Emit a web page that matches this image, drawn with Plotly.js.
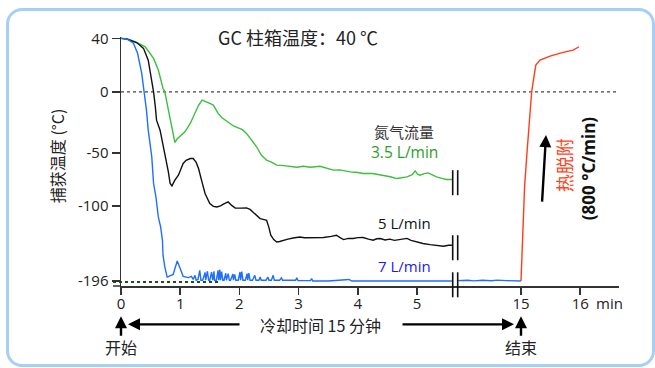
<!DOCTYPE html>
<html>
<head>
<meta charset="utf-8">
<script src="https://cdn.plot.ly/plotly-3.0.1.min.js"></script>
<style>
  html, body { margin: 0; padding: 0; background: #fff; }
  #wrap { position: relative; width: 655px; height: 368px; overflow: hidden; }
  #chart { position: absolute; left: 0; top: 0; width: 655px; height: 368px; }
  #frame { position: absolute; left: 6px; top: 8px; width: 649px; height: 359px; box-sizing: border-box;
           border: 3px solid #a6cff6; border-radius: 16px; pointer-events: none; }
</style>
</head>
<body>
<div id="wrap">
  <div id="chart"></div>
  <div id="frame"></div>
</div>
<script>
// ---------------- data (time in min, temperature in °C) ----------------
const greenT = [0, 0.1, 0.24, 0.41, 0.55, 0.63, 0.71, 0.74, 0.79, 0.83, 0.87, 0.91, 0.95, 1.0, 1.08, 1.17, 1.25, 1.31, 1.37, 1.41, 1.45, 1.5, 1.56, 1.64, 1.7, 1.76, 1.83, 1.9, 1.98, 2.05, 2.12, 2.2, 2.29, 2.37, 2.46, 2.55, 2.63, 2.75, 2.85, 2.97, 3.08, 3.2, 3.36, 3.45, 3.59, 3.7, 3.87, 4.0, 4.09, 4.25, 4.43, 4.55, 4.66, 4.75, 4.83, 4.92, 4.97, 5.01, 5.05, 5.12, 5.19, 5.25, 5.33, 5.42, 5.5, 5.59];
const greenV = [40, 39.5, 37.5, 33.7, 25, 16.3, 2.5, 0, -12.3, -23.2, -34, -41.5, -38.5, -36.6, -32.8, -25.9, -17.7, -11, -6.8, -7.5, -8.2, -9.5, -10.9, -17.7, -21, -23.2, -25.5, -28, -29.5, -31, -34.1, -39, -45, -52, -56.9, -59, -61.6, -62, -62.8, -63.5, -62.6, -63.5, -62.6, -64, -66.3, -66, -67.9, -68.5, -69.4, -69.5, -71, -72.5, -74.2, -73.5, -72.6, -70.5, -67, -70, -71, -69.5, -68.9, -70.5, -72.6, -74, -75.1, -75.1];

const blackT = [0, 0.1, 0.27, 0.38, 0.46, 0.51, 0.55, 0.58, 0.6, 0.66, 0.71, 0.77, 0.8, 0.83, 0.86, 0.91, 0.97, 1.05, 1.1, 1.17, 1.22, 1.27, 1.31, 1.36, 1.42, 1.5, 1.56, 1.62, 1.68, 1.73, 1.81, 1.87, 1.93, 2.02, 2.12, 2.18, 2.23, 2.3, 2.35, 2.42, 2.46, 2.5, 2.53, 2.58, 2.63, 2.68, 2.74, 2.82, 2.91, 3.02, 3.1, 3.19, 3.3, 3.42, 3.55, 3.64, 3.7, 3.76, 3.84, 3.92, 4.0, 4.09, 4.18, 4.26, 4.32, 4.38, 4.46, 4.54, 4.62, 4.71, 4.83, 4.9, 5.0, 5.1, 5.22, 5.35, 5.45, 5.53, 5.59];
const blackV = [40, 39.5, 36.7, 32.5, 23.7, 11.2, 0, -12.3, -23.2, -31.4, -44, -56.9, -68, -78.9, -81.1, -75.7, -71, -60, -57, -55.3, -55.3, -59, -64.7, -75.7, -88.3, -97.7, -100.5, -101.3, -100, -98.4, -96.2, -99.5, -102.6, -102.8, -102.6, -104.5, -107.7, -112.5, -116.2, -117.5, -118.3, -128, -137.5, -143, -146.1, -145.5, -143.9, -142.5, -141, -139.7, -140.6, -140.4, -140.6, -140.4, -139, -137.5, -140.5, -143, -141.5, -141.7, -140.5, -140.4, -142.5, -143.9, -142, -141.7, -143.5, -142.5, -144, -143, -141.5, -144, -146.1, -148, -149.4, -150.5, -151.6, -150.3, -150.3];

const blueT = [0, 0.1, 0.21, 0.28, 0.35, 0.39, 0.43, 0.46, 0.49, 0.52, 0.55, 0.59, 0.63, 0.67, 0.7, 0.71, 0.74, 0.78, 0.88, 0.95, 1.0, 1.05, 1.14, 1.19,
  1.22, 1.25, 1.27, 1.3, 1.33, 1.35, 1.38, 1.42, 1.43, 1.46, 1.48, 1.5, 1.53, 1.55, 1.57, 1.58, 1.61, 1.64, 1.65, 1.67, 1.68, 1.7, 1.72, 1.74, 1.77, 1.78, 1.81, 1.83, 1.85, 1.89, 1.9, 1.92, 1.94, 1.98, 2.01, 2.02, 2.04, 2.06, 2.1, 2.13, 2.14, 2.16, 2.18, 2.22, 2.26, 2.28, 2.33, 2.35, 2.37, 2.45, 2.48, 2.5, 2.54, 2.57, 2.59, 2.68, 2.71, 2.73, 2.95, 2.97, 2.99, 3.2, 3.22, 3.24, 3.5, 3.8, 3.85, 3.9, 4.2, 4.5, 4.8, 5.1, 5.4, 5.59];
const blueV = [40, 39.5, 36.3, 28.8, 13.8, 1.3, -15, -31.4, -45, -53.8, -78.9, -91.5, -114, -127, -144, -163, -178, -191, -187.5, -170.4, -180, -190, -191.6, -190,
  -194, -188.7, -195, -194, -182.3, -195, -195, -185, -195, -183.5, -195, -195, -184.5, -195, -183.5, -195, -195, -182.3, -195, -181.5, -195, -184, -195, -195, -186, -195, -186.5, -195, -195, -187, -195, -187.5, -195, -195, -184.5, -195, -184, -195, -195, -186.5, -195, -186, -195, -195, -188.7, -195, -195, -190.9, -195, -195, -191, -195, -195, -188.7, -195, -195, -192, -195, -195, -192, -195.5, -195.5, -193, -196, -196, -195, -194, -196, -196, -195.5, -196, -195.5, -196, -196];

const blue2T = [13.92, 14.1, 14.2, 14.35, 14.5, 14.6, 14.75, 14.9, 15.0];
const blue2V = [-195.5, -195, -195.8, -195, -195.6, -194.8, -195.5, -195.8, -196];

const redT = [15.0, 15.03, 15.06, 15.1, 15.14, 15.18, 15.21, 15.25, 15.32, 15.49, 15.71, 15.88, 15.98];
const redV = [-196, -139.7, -82.1, -50.6, -23.2, 0, 8.8, 20, 23.7, 26.7, 29.5, 31.2, 33.7];

const yTickVals = [40, 0, -50, -100, -196];
const yTickText = ['40', '0', '-50', '-100', '-196'];
const xTickVals = [0, 1, 2, 3, 4, 5, 15, 16];
const xTickText = ['0', '1', '2', '3', '4', '5', '15', '16'];

// ---------------- broken-axis transforms ----------------
const T_OFF = 8.243;               // time gap removed after the axis break
function tx(t) { return t >= 13 ? t - T_OFF : t; }
function ty(v) {
  if (v >= 0) return v;
  if (v >= -50) return v * 0.9139;
  if (v >= -100) return -45.69 + (v + 50) * 0.794;
  return -85.39 + (v + 100) * 0.5852;
}
const X = a => a.map(tx);
const Y = a => a.map(ty);

// pixel -> paper helpers for decorations
const L = 121, R = 619, TOP = 37, BOT = 285.7;
const px = x => (x - L) / (R - L);
const py = y => (BOT - y) / (BOT - TOP);

const FONT = 'Open Sans, Noto Sans CJK SC, sans-serif';
const CJK = 'Noto Sans CJK SC, Open Sans, sans-serif';

const line = (color) => ({ color: color, width: 1.4 });
const traces = [
  { x: X(greenT), y: Y(greenV), mode: 'lines', line: line('#3cbf3c'), hoverinfo: 'skip' },
  { x: X(blackT), y: Y(blackV), mode: 'lines', line: line('#111111'), hoverinfo: 'skip' },
  { x: X(blueT), y: Y(blueV), mode: 'lines', line: line('#1f6fff'), hoverinfo: 'skip' },
  { x: X(blue2T), y: Y(blue2V), mode: 'lines', line: line('#1f6fff'), hoverinfo: 'skip' },
  { x: X(redT), y: Y(redV), mode: 'lines', line: line('#ff3c1a'), hoverinfo: 'skip' }
];

function ann(text, x, y, opts) {
  return Object.assign({ text: text, xref: 'paper', yref: 'paper', x: px(x), y: py(y),
    xanchor: 'center', yanchor: 'middle', showarrow: false,
    font: { family: CJK, size: 16, color: '#222' } }, opts || {});
}
function arrow(hx, hy, tx_, ty_) {
  return { text: '', xref: 'paper', yref: 'paper', x: px(hx), y: py(hy),
    ax: tx_ - hx, ay: ty_ - hy, showarrow: true, arrowhead: 2, arrowsize: 1,
    arrowwidth: 2.4, arrowcolor: '#000', standoff: 0, startstandoff: 0 };
}

const annotations = [
  ann('GC 柱箱温度：40 ℃', 298, 37, { font: { family: CJK, size: 18, color: '#222' } }),
  ann('捕获温度 (°C)', 57, 156, { textangle: -90, font: { family: CJK, size: 16, color: '#222' } }),
  ann('氮气流量', 404, 131, { font: { family: CJK, size: 15, color: '#333' } }),
  ann('3.5 L/min', 404, 151.5, { font: { family: FONT, size: 15.5, color: '#2a9d2a' } }),
  ann('5 L/min', 404, 223, { font: { family: FONT, size: 15, color: '#111' } }),
  ann('7 L/min', 404, 266, { font: { family: FONT, size: 15, color: '#1a1aee' } }),
  ann('min', 594, 303, { xanchor: 'left', font: { family: FONT, size: 15, color: '#222' } }),
  ann('冷却时间 15 分钟', 320, 325, { font: { family: CJK, size: 16, color: '#222' } }),
  ann('开始', 121, 347, { font: { family: CJK, size: 16, color: '#222' } }),
  ann('结束', 521, 347, { font: { family: CJK, size: 16, color: '#222' } }),
  ann('热脱附', 564, 165, { textangle: -90, font: { family: CJK, size: 18, color: '#ff4422' } }),
  ann('<b>(800 °C/min)</b>', 588, 168, { textangle: -90, font: { family: FONT, size: 17, color: '#111' } }),
  arrow(121, 316, 121, 337),
  arrow(521, 316, 521, 337),
  arrow(128, 324, 241, 324),
  arrow(514, 324, 401, 324),
  arrow(546, 135, 542, 203)
];

const brk = (x, y0, y1) => ({ type: 'line', xref: 'paper', yref: 'paper', x0: px(x), x1: px(x),
  y0: py(y0), y1: py(y1), line: { color: '#111', width: 1.6 } });
const shapes = [
  { type: 'line', xref: 'paper', yref: 'y', x0: 0, x1: px(617), y0: ty(0), y1: ty(0),
    line: { color: '#444', width: 1.2, dash: 'dot' }, layer: 'below' },
  { type: 'line', xref: 'paper', yref: 'paper', x0: px(113), x1: px(218), y0: py(281.7), y1: py(281.7),
    line: { color: '#1d4f1d', width: 2, dash: 'dot' }, layer: 'below' },
  { type: 'line', xref: 'paper', yref: 'paper', x0: px(113), x1: 0, y0: 0, y1: 0,
    line: { color: '#333', width: 1.5 } },
  brk(452.7, 170, 195), brk(457.7, 170, 195),
  brk(452.7, 235, 260), brk(457.7, 235, 260),
  brk(452.7, 272, 297), brk(457.7, 272, 297)
];

const layout = {
  width: 655, height: 368,
  margin: { l: L, r: 655 - R, t: TOP, b: 368 - BOT },
  paper_bgcolor: '#fff', plot_bgcolor: '#fff',
  showlegend: false,
  font: { family: FONT, size: 15, color: '#222' },
  xaxis: {
    range: [0, (R - L) / 59.2], showgrid: false, zeroline: false,
    showline: true, linecolor: '#333', linewidth: 1.5,
    ticks: 'outside', ticklen: 7, tickwidth: 1.5, tickcolor: '#333',
    ticklabelstandoff: -4,
    tickvals: X(xTickVals), ticktext: xTickText,
    tickfont: { family: FONT, size: 15, color: '#222' }
  },
  yaxis: {
    range: [-145.3, 41], showgrid: false, zeroline: false,
    showline: true, linecolor: '#333', linewidth: 1.5,
    ticks: 'outside', ticklen: 8, tickwidth: 1.5, tickcolor: '#333',
    tickvals: Y(yTickVals), ticktext: yTickText,
    tickfont: { family: FONT, size: 15, color: '#222' }
  },
  annotations: annotations,
  shapes: shapes
};

Plotly.newPlot('chart', traces, layout, { displayModeBar: false, staticPlot: true });
</script>
</body>
</html>
